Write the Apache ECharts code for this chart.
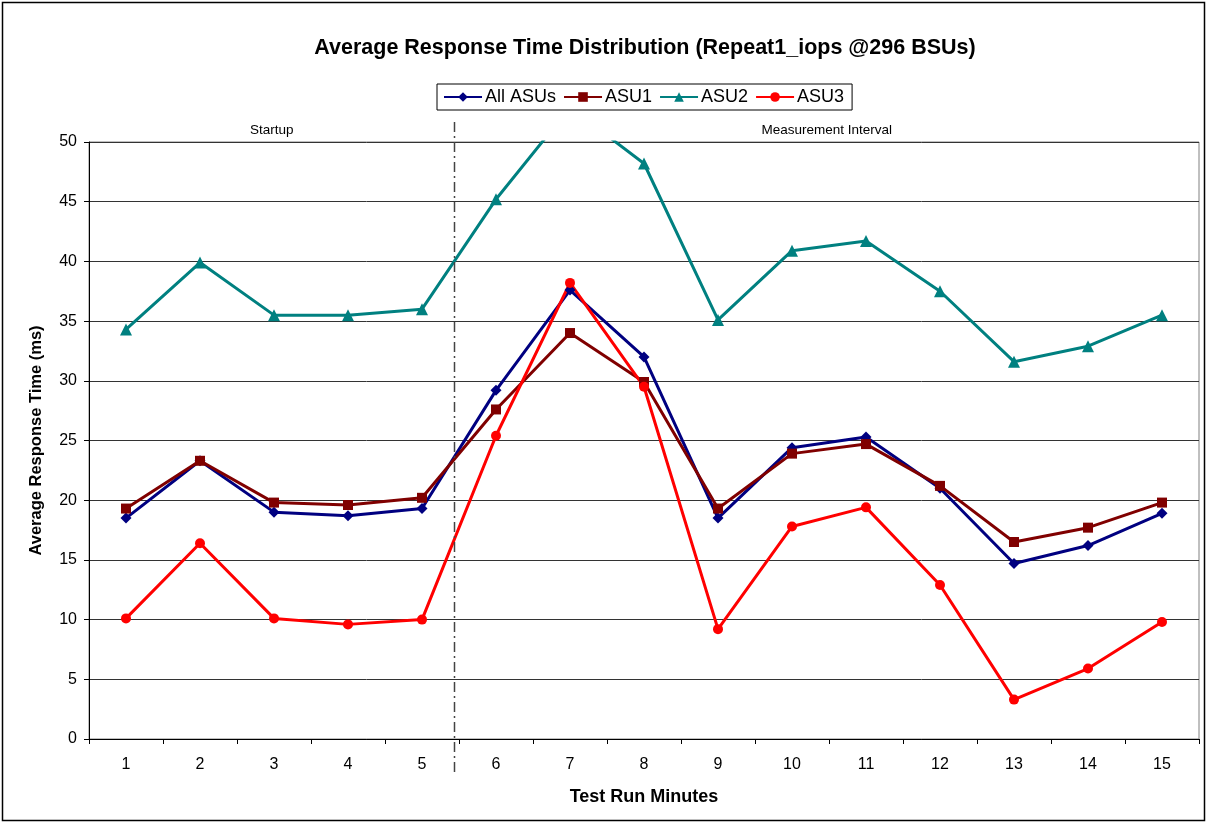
<!DOCTYPE html>
<html>
<head>
<meta charset="utf-8">
<script src="https://cdn.jsdelivr.net/npm/echarts@6/dist/echarts.min.js"></script>
<style>
html,body{margin:0;padding:0;background:#fff;}
#chart{width:1207px;height:823px;}
</style>
</head>
<body>
<div id="chart"></div>
<script>
const minutes = ['1','2','3','4','5','6','7','8','9','10','11','12','13','14','15'];
const allASUs = [18.5, 23.3, 19.0, 18.7, 19.3, 29.2, 37.6, 32.0, 18.5, 24.4, 25.3, 21.0, 14.7, 16.2, 18.9];
const asu1 =    [19.3, 23.3, 19.8, 19.6, 20.2, 27.6, 34.0, 29.9, 19.3, 23.9, 24.7, 21.2, 16.5, 17.7, 19.8];
const asu2 =    [34.3, 39.9, 35.5, 35.5, 36.0, 45.2, 52.9, 48.2, 35.1, 40.9, 41.7, 37.5, 31.6, 32.9, 35.5];
const asu3 =    [10.1, 16.4, 10.1, 9.6, 10.0, 25.4, 38.2, 29.5, 9.2, 17.8, 19.4, 12.9, 3.3, 5.9, 9.8];
const phaseLabels = ['Startup', 'Measurement Interval'];

const FONT = '"Liberation Sans", Arial, sans-serif';
const chart = echarts.init(document.getElementById('chart'));

function mkSeries(name, data, color, symbol, size) {
  return {
    name, type: 'line', data,
    symbol, symbolSize: size,
    lineStyle: { color, width: 3 },
    itemStyle: { color },
    clip: true,
    animation: false
  };
}

const option = {
  animation: false,
  backgroundColor: '#fff',
  title: {
    text: 'Average Response Time Distribution (Repeat1_iops @296 BSUs)',
    left: 640, top: 32, textAlign: 'center',
    textStyle: { fontFamily: FONT, fontSize: 21.5, fontWeight: 'bold', color: '#000' }
  },
  legend: {
    left: 437, top: 84,
    padding: [4, 8, 4, 6],
    borderColor: '#000', borderWidth: 1,
    itemWidth: 38, itemHeight: 12, itemGap: 7,
    textStyle: { fontFamily: FONT, fontSize: 18, color: '#000', padding: [0, 0, 0, -2] },
    data: ['All ASUs', 'ASU1', 'ASU2', 'ASU3']
  },
  grid: { left: 89, right: 8, top: 142, bottom: 84, show: true, borderColor: '#808080', borderWidth: 1, containLabel: false },
  xAxis: {
    type: 'category', data: minutes, boundaryGap: true,
    name: 'Test Run Minutes', nameLocation: 'middle', nameGap: 49,
    nameTextStyle: { fontFamily: FONT, fontSize: 18, fontWeight: 'bold', color: '#000' },
    axisLine: { lineStyle: { color: '#000', width: 1 } },
    axisTick: { show: true, alignWithLabel: false, length: 5, lineStyle: { color: '#000' } },
    axisLabel: { fontFamily: FONT, fontSize: 16, color: '#000', margin: 18 },
    splitLine: { show: false }
  },
  yAxis: {
    type: 'value', min: 0, max: 50, interval: 5,
    name: 'Average Response Time (ms)', nameLocation: 'middle', nameGap: 44,
    nameTextStyle: { fontFamily: FONT, fontSize: 16.5, fontWeight: 'bold', color: '#000' },
    axisLine: { show: true, lineStyle: { color: '#000', width: 1 } },
    axisTick: { show: true, length: 5, lineStyle: { color: '#000' } },
    axisLabel: { fontFamily: FONT, fontSize: 16, color: '#000', margin: 12 },
    splitLine: { show: true, lineStyle: { color: '#333', width: 1 } }
  },
  series: [
    mkSeries('All ASUs', allASUs, '#000080', 'diamond', 11),
    mkSeries('ASU1', asu1, '#800000', 'rect', 10),
    mkSeries('ASU2', asu2, '#008080', 'triangle', 12),
    mkSeries('ASU3', asu3, '#FF0000', 'circle', 10)
  ]
};
chart.setOption(option);

// divider between startup and measurement interval, and phase labels
const p4 = chart.convertToPixel({ xAxisIndex: 0 }, 4);
const p5 = chart.convertToPixel({ xAxisIndex: 0 }, 5);
const pFirst = chart.convertToPixel({ xAxisIndex: 0 }, 0);
const pLast = chart.convertToPixel({ xAxisIndex: 0 }, 14);
const band = p5 - p4;
const divX = Math.round(p4 + band * 0.43) + 0.5;
const yTop = chart.convertToPixel({ yAxisIndex: 0 }, 50);
const yBot = chart.convertToPixel({ yAxisIndex: 0 }, 0);
const leftEdge = pFirst - band / 2;
const rightEdge = pLast + band / 2;

chart.setOption({
  graphic: [
    { type: 'rect', shape: { x: 2.5, y: 2.5, width: 1202, height: 818 }, style: { fill: null, stroke: '#000', lineWidth: 1.5 }, silent: true, z: 0 },
    { type: 'line', shape: { x1: divX, y1: yTop - 20, x2: divX, y2: yBot + 36 },
      style: { stroke: '#444', lineWidth: 1.5, lineDash: [10, 4, 2, 4] }, z: 100, silent: true },
    { type: 'text', x: (leftEdge + divX) / 2, y: yTop - 19,
      style: { text: phaseLabels[0], font: '13.5px ' + FONT, fill: '#000', textAlign: 'center' }, silent: true },
    { type: 'text', x: (divX + rightEdge) / 2, y: yTop - 19,
      style: { text: phaseLabels[1], font: '13.5px ' + FONT, fill: '#000', textAlign: 'center' }, silent: true }
  ]
});
</script>
</body>
</html>
